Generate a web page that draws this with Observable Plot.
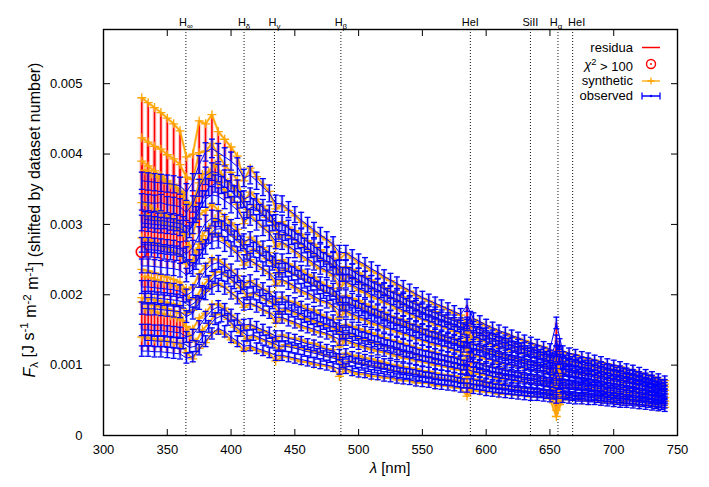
<!DOCTYPE html>
<html><head><meta charset="utf-8">
<script src="https://cdn.jsdelivr.net/npm/d3@7"></script>
<script src="https://cdn.jsdelivr.net/npm/@observablehq/plot@0.6"></script>
<style>
body{margin:0;background:#fff}
svg text{font-family:"Liberation Sans",Arial,Helvetica,sans-serif}
</style>
</head><body><div id="chart"></div>
<script>
// ---- data (flux in units of 1e-5 J s^-1 m^-2 m^-1) ----
const fluxUnit = 1e-5;
// wavelength grid A (datasets D1..D9)
const wavelengthsA = [330,335,340,345,350,355,360,365,370,375,380,385,390,395,400,405,410,415,420,425,430,435,440,445,450,455,460,465,470,475,480,485,490,495,500,505,510,515,520,525,530,535,540,545,550,555,560,565,570,575,580,585,590,595,600,605,610,615,620,625,630,635,640,645,650,655,660,665,670,675,680,685,690,695,700,705,710,715,720,725,730,735,740];
// wavelength grid B (datasets E1..E4)
const wavelengthsB = [332.5,337.5,342.5,347.5,352.5,357.5,362.5,367.5,372.5,377.5,382.5,387.5,392.5,397.5,402.5,407.5,412.5,417.5,422.5,427.5,432.5,437.5,442.5,447.5,452.5,457.5,462.5,467.5,472.5,477.5,482.5,487.5,492.5,497.5,502.5,507.5,512.5,517.5,522.5,527.5,532.5,537.5,542.5,547.5,552.5,557.5,562.5,567.5,572.5,577.5,582.5,587.5,592.5,597.5,602.5,607.5,612.5,617.5,622.5,627.5,632.5,637.5,642.5,647.5,652.5,657.5,662.5,667.5,672.5,677.5,682.5,687.5,692.5,697.5,702.5,707.5,712.5,717.5,722.5,727.5,732.5,737.5];

const observedD1 = [362,361,360,359,358,357,355,346,360,385,403,408,402,396,390,382,366,370,362,353,344,330,329,321,314,306,299,292,285,279,272,260,260,254,248,243,237,232,226,221,216,211,206,201,196,192,188,184,180,176,172,185,166,162,157,153,149,146,142,139,135,132,129,126,123,160,120,117,115,112,110,107,105,102,100,98,95,93,90,87,84,81,78];
const observedD2 = [332,331,330,331,328,327,325,317,329,352,369,375,373,365,359,351,336,340,332,324,316,303,302,295,289,283,275,269,262,257,250,239,239,234,228,224,218,214,208,204,200,195,190,186,181,177,174,170,166,163,159,157,154,150,145,142,138,135,132,129,125,123,120,117,114,112,112,109,107,104,103,100,98,95,93,92,89,87,84,82,79,76,73];
const observedD3 = [302,301,300,299,298,297,295,287,298,319,336,342,340,334,328,320,306,310,303,295,288,276,275,269,263,257,251,245,239,234,229,219,219,214,209,205,200,196,191,187,182,178,174,170,166,163,159,156,153,150,146,160,141,138,134,130,127,125,121,119,116,113,111,108,106,135,103,101,99,97,95,93,91,89,87,85,83,81,79,76,74,71,69];
const observedD4 = [271,271,270,269,268,267,265,258,267,286,302,309,308,303,296,289,276,279,273,266,259,249,248,243,238,232,227,222,216,212,207,198,198,193,189,185,181,177,173,169,165,162,158,155,151,148,145,142,139,136,133,132,129,126,122,119,116,114,111,109,106,104,102,99,97,95,95,93,91,89,88,86,84,82,80,79,77,75,73,71,68,66,64];
const observedD5 = [241,241,240,239,238,237,235,228,236,254,268,276,277,272,265,258,247,249,243,237,231,222,222,217,212,207,203,198,193,190,185,177,177,173,169,166,162,159,155,152,149,146,143,139,136,133,131,128,126,123,120,135,116,114,110,108,105,103,101,99,96,94,93,91,89,120,87,85,83,82,80,79,77,75,74,72,71,69,67,65,63,61,59];
const observedD6 = [211,211,210,209,208,207,205,199,205,220,235,243,246,241,234,227,217,219,213,208,203,195,195,190,187,182,178,175,170,167,163,156,157,153,149,147,143,141,137,135,132,129,127,123,121,119,116,114,112,110,107,106,104,101,98,96,94,92,90,89,86,85,83,81,80,78,78,77,75,74,73,71,70,68,67,66,64,63,61,60,58,56,54];
const observedD7 = [181,180,180,179,178,177,176,169,174,188,202,210,214,210,203,196,187,188,184,179,175,168,168,164,161,157,154,151,148,145,141,136,136,133,130,127,125,122,120,117,115,112,110,108,106,104,102,100,98,96,94,94,91,89,87,84,83,81,80,78,76,75,74,72,71,95,69,68,67,66,65,64,63,61,60,59,58,57,55,54,52,51,49];
const observedD8 = [150,150,149,149,148,147,146,140,143,155,168,178,183,179,171,165,157,158,154,150,146,141,141,138,136,133,130,128,125,122,120,115,116,112,110,108,106,104,102,100,98,96,95,93,91,90,87,86,85,83,81,92,79,77,75,73,72,71,69,68,67,66,65,64,63,61,61,60,59,59,58,57,56,55,54,53,52,51,50,49,47,46,45];
const observedD9 = [120,120,119,119,118,117,116,110,112,122,134,145,152,148,140,134,127,128,124,121,118,114,114,112,110,108,106,104,102,100,98,94,95,92,90,89,87,86,84,83,81,80,79,77,76,75,73,72,71,70,68,68,66,65,63,62,61,60,59,58,57,56,56,55,54,52,53,52,51,51,50,50,49,48,47,46,46,45,44,43,42,41,40];
const observedE1 = [307,306,305,305,303,302,300,292,314,336,353,358,356,350,343,335,321,325,317,309,302,290,288,282,276,270,263,257,250,245,239,229,229,224,218,214,209,205,200,195,191,186,182,178,173,170,166,163,159,156,152,168,147,144,139,136,132,130,126,124,120,118,115,112,110,130,107,105,103,100,99,96,94,92,90,88,86,84,81,79,76,73];
const observedE2 = [264,264,263,261,260,259,256,240,246,262,284,293,294,288,280,273,261,264,258,251,245,235,235,230,225,219,215,210,204,201,196,187,187,183,179,175,171,168,164,160,157,154,150,147,143,140,138,135,132,129,126,125,122,120,116,113,110,108,106,104,101,99,97,95,93,108,91,89,87,85,84,82,80,78,77,75,74,72,70,68,65,63];
const observedE3 = [196,196,195,194,193,192,190,184,190,204,218,226,230,225,218,211,202,203,198,193,189,181,181,177,174,169,166,163,159,156,152,146,146,143,139,137,134,131,128,126,123,120,118,115,113,111,109,107,105,103,100,112,97,95,92,90,88,86,85,83,81,80,78,76,75,74,73,72,71,70,69,67,66,64,63,62,61,60,58,57,55,53];
const observedE4 = [135,135,134,134,133,132,131,125,127,140,155,166,170,165,156,149,142,143,139,135,132,127,127,125,123,120,118,116,113,111,109,104,105,102,100,98,96,95,93,91,89,88,87,85,83,82,80,79,78,76,74,74,72,71,69,67,66,65,64,63,62,61,60,59,58,72,57,56,55,55,54,53,52,51,50,49,49,48,47,46,44,43];

// residua = synthetic - observed (same units)
const residuaD1 = [118,112,106,100,93,86,78,50,40,62,40,48,30,25,20,15,-4,10,6,4,3,-8,-2,-1,-2,-3,-2,-3,-2,-1,-2,-10,-1,-2,-3,-2,-3,-2,-2,-1,-2,-2,-1,-2,-1,-1,-2,-1,-1,-2,-1,-28,-1,-2,-1,-1,-2,-1,-1,-1,0,-1,-1,0,-2,-50,-1,-1,0,-1,-1,0,-1,0,-1,0,-1,0,-1,0,0,-1,0];
const residuaD2 = [91,86,81,76,71,66,60,50,35,50,35,40,25,20,15,12,-4,6,4,2,2,-6,2,1,2,3,2,3,2,1,2,-8,1,2,3,2,3,2,2,1,2,2,1,2,1,1,2,1,1,2,1,-10,1,2,1,1,2,1,1,1,0,1,1,0,-2,-25,-1,1,0,1,1,0,1,0,1,0,1,0,1,0,0,1,0];
const residuaD3 = [88,82,76,70,64,58,52,40,30,40,28,30,20,15,10,8,-5,4,2,1,1,-8,-2,-1,-2,-3,-2,-3,-2,-1,-2,-10,-1,-2,-3,-2,-3,-2,-2,-1,-2,-2,-1,-2,-1,-1,-2,-1,-1,-2,-1,-25,-1,-2,-1,-1,-2,-1,-1,-1,0,-1,-1,0,-2,-45,-1,-1,0,-1,-1,0,-1,0,-1,0,-1,0,-1,0,0,-1,0];
const residuaD4 = [60,56,52,48,44,40,36,28,20,28,18,20,12,8,6,4,-5,3,2,1,1,-6,2,1,2,3,2,3,2,1,2,-8,1,2,3,2,3,2,2,1,2,2,1,2,1,1,2,1,1,2,1,-10,1,2,1,1,2,1,1,1,0,1,1,0,-2,-25,-1,1,0,1,1,0,1,0,1,0,1,0,1,0,0,1,0];
const residuaD5 = [40,37,34,31,28,25,22,16,12,18,10,12,8,5,3,2,-5,1,0,-1,-1,-8,-2,-1,-2,-3,-2,-3,-2,-1,-2,-10,-1,-2,-3,-2,-3,-2,-2,-1,-2,-2,-1,-2,-1,-1,-2,-1,-1,-2,-1,-25,-1,-2,-1,-1,-2,-1,-1,-1,0,-1,-1,0,-2,-45,-1,-1,0,-1,-1,0,-1,0,-1,0,-1,0,-1,0,0,-1,0];
const residuaD6 = [25,23,21,19,17,15,13,8,6,10,6,8,4,2,1,0,-5,1,1,0,1,-6,2,1,2,3,2,3,2,1,2,-8,1,2,3,2,3,2,2,1,2,2,1,2,1,1,2,1,1,2,1,-10,1,2,1,1,2,1,1,1,0,1,1,0,-2,-25,-1,1,0,1,1,0,1,0,1,0,1,0,1,0,0,1,0];
const residuaD7 = [15,14,13,12,11,10,9,5,4,6,3,4,2,1,0,-1,-5,-1,0,-1,-1,-8,-2,-1,-2,-3,-2,-3,-2,-1,-2,-10,-1,-2,-3,-2,-3,-2,-2,-1,-2,-2,-1,-2,-1,-1,-2,-1,-1,-2,-1,-12,-1,-2,-1,-1,-2,-1,-1,-1,0,-1,-1,0,-2,-38,-1,-1,0,-1,-1,0,-1,0,-1,0,-1,0,-1,0,0,-1,0];
const residuaD8 = [40,38,36,34,32,30,28,15,8,12,6,8,4,2,0,-1,-5,-1,-2,-1,-2,-6,2,1,2,3,2,3,2,1,2,-8,1,2,3,2,3,2,2,1,2,2,1,2,1,1,2,1,1,2,1,-20,1,2,1,1,2,1,1,1,0,1,1,0,-2,-25,-1,1,0,1,1,0,1,0,1,0,1,0,1,0,0,1,0];
const residuaD9 = [20,19,18,17,16,15,14,8,-3,2,-2,0,-3,-4,-4,-3,-6,-3,-3,-2,-2,-8,-2,-1,-2,-3,-2,-3,-2,-1,-2,-10,-1,-2,-3,-2,-3,-2,-2,-1,-2,-2,-1,-2,-1,-1,-2,-1,-1,-2,-1,-12,-1,-2,-1,-1,-2,-1,-1,-1,0,-1,-1,0,-2,-25,-1,-1,0,-1,-1,0,-1,0,-1,0,-1,0,-1,0,0,-1,0];
const residuaE1 = [70,66,62,58,54,50,45,35,25,35,22,28,15,10,8,5,-4,3,2,1,1,-8,-2,-1,-2,-3,-2,-3,-2,-1,-2,-10,-1,-2,-3,-2,-3,-2,-2,-1,-2,-2,-1,-2,-1,-1,-2,-1,-1,-2,-1,-28,-1,-2,-1,-1,-2,-1,-1,-1,0,-1,-1,0,-2,-35,-1,-1,0,-1,-1,0,-1,0,-1,0,-1,0,-1,0,0,-1];
const residuaE2 = [50,47,44,41,38,35,32,30,15,22,12,15,8,5,3,2,-5,1,1,0,0,-6,2,1,2,3,2,3,2,1,2,-8,1,2,3,2,3,2,2,1,2,2,1,2,1,1,2,1,1,2,1,-10,1,2,1,1,2,1,1,1,0,1,1,0,-2,-30,-1,1,0,1,1,0,1,0,1,0,1,0,1,0,0,1];
const residuaE3 = [30,28,26,24,22,20,18,10,5,8,4,6,3,1,0,-1,-5,-1,0,-1,-1,-8,-2,-1,-2,-3,-2,-3,-2,-1,-2,-10,-1,-2,-3,-2,-3,-2,-2,-1,-2,-2,-1,-2,-1,-1,-2,-1,-1,-2,-1,-22,-1,-2,-1,-1,-2,-1,-1,-1,0,-1,-1,0,-2,-25,-1,-1,0,-1,-1,0,-1,0,-1,0,-1,0,-1,0,0,-1];
const residuaE4 = [45,43,41,39,37,35,32,18,6,10,4,6,2,0,-2,-3,-6,-2,-2,-1,-2,-6,2,1,2,3,2,3,2,1,2,-8,1,2,3,2,3,2,2,1,2,2,1,2,1,1,2,1,1,2,1,-10,1,2,1,1,2,1,1,1,0,1,1,0,-2,-28,-1,1,0,1,1,0,1,0,1,0,1,0,1,0,0,1];

// observational uncertainty: floor + fraction of flux
const sigmaFloor = 5;
const sigmaFraction = 0.02;

// points with chi^2 > 100
const chi2Lambda = [330];
const chi2Flux = [0.00261];

// spectral line markers
const lineLambda = [364.6, 410.2, 434.0, 486.1, 587.6, 634.7, 656.3, 667.8];
const lineBase = ["H", "H", "H", "H", "HeI", "SiII", "H", "HeI"];
const lineSub = ["\u221e", "\u03b4", "\u03b3", "\u03b2", "", "", "\u03b1", ""];

const xTicks = [300,350,400,450,500,550,600,650,700,750];
const yTicks = [0,0.001,0.002,0.003,0.004,0.005];

// ---- build table ----
const datasets = [
  [wavelengthsA, observedD1, residuaD1], [wavelengthsA, observedD2, residuaD2], [wavelengthsB, observedE1, residuaE1],
  [wavelengthsA, observedD3, residuaD3], [wavelengthsA, observedD4, residuaD4], [wavelengthsB, observedE2, residuaE2],
  [wavelengthsA, observedD5, residuaD5], [wavelengthsA, observedD6, residuaD6], [wavelengthsB, observedE3, residuaE3],
  [wavelengthsA, observedD7, residuaD7], [wavelengthsA, observedD8, residuaD8], [wavelengthsB, observedE4, residuaE4],
  [wavelengthsA, observedD9, residuaD9]
];
const rows = [];
datasets.forEach(([lams, obsArr, resArr], k) => {
  lams.forEach((lam, i) => {
    const o = obsArr[i], r = resArr[i];
    const s = sigmaFloor + sigmaFraction * o;
    rows.push({set: k + 1, lambda: lam, obs: o * fluxUnit, syn: (o + r) * fluxUnit, lo: (o - s) * fluxUnit, hi: (o + s) * fluxUnit});
  });
});
const chiRows = chi2Lambda.map((l, i) => ({lambda: l, flux: chi2Flux[i]}));
const lineRows = lineLambda.map((l, i) => ({lambda: l, base: lineBase[i], sub: lineSub[i]}));

const capSymbol = {draw(ctx, size) { const w = Math.sqrt(size / Math.PI); ctx.moveTo(-w, 0); ctx.lineTo(w, 0); }};
const BLUE = "#0000ff", ORANGE = "#ffa500", RED = "#ff0000";

const chart = Plot.plot({
  width: 709, height: 487,
  marginLeft: 103, marginRight: 32, marginTop: 29, marginBottom: 52,
  style: {fontFamily: "Liberation Sans, Arial, sans-serif", fontSize: "13px", background: "white", color: "black", overflow: "visible"},
  x: {domain: [300, 750]},
  y: {domain: [0, 0.00577]},
  marks: [
    Plot.ruleX(lineRows, {x: "lambda", stroke: "#111", strokeWidth: 1, strokeDasharray: "1,2"}),
    Plot.text(lineRows, {x: "lambda", text: "base", frameAnchor: "top", dy: -11, fontSize: 11}),
    // residua
    Plot.ruleX(rows, {x: "lambda", y1: "obs", y2: "syn", stroke: RED, strokeWidth: 4, strokeOpacity: 0.18}),
    Plot.ruleX(rows, {x: "lambda", y1: "obs", y2: "syn", stroke: RED, strokeWidth: 1.6}),
    // chi2 > 100
    Plot.dot(chiRows, {x: "lambda", y: "flux", r: 5.5, stroke: RED, strokeWidth: 1.6, fill: "none"}),
    // synthetic
    Plot.line(rows, {x: "lambda", y: "syn", z: "set", stroke: ORANGE, strokeWidth: 2.5, strokeOpacity: 0.5}),
    Plot.line(rows, {x: "lambda", y: "syn", z: "set", stroke: ORANGE, strokeWidth: 1.3}),
    Plot.dot(rows, {x: "lambda", y: "syn", symbol: "plus", r: 3, stroke: ORANGE, strokeWidth: 1.3}),
    // observed
    Plot.ruleX(rows, {x: "lambda", y1: "lo", y2: "hi", stroke: BLUE, strokeWidth: 3.5, strokeOpacity: 0.18}),
    Plot.line(rows, {x: "lambda", y: "obs", z: "set", stroke: BLUE, strokeWidth: 1}),
    Plot.ruleX(rows, {x: "lambda", y1: "lo", y2: "hi", stroke: BLUE, strokeWidth: 1.3}),
    Plot.dot(rows, {x: "lambda", y: "lo", symbol: capSymbol, r: 3, fill: "none", stroke: BLUE, strokeWidth: 1.3}),
    Plot.dot(rows, {x: "lambda", y: "hi", symbol: capSymbol, r: 3, fill: "none", stroke: BLUE, strokeWidth: 1.3}),
    // frame and axes
    Plot.frame({stroke: "black", strokeWidth: 1.4}),
    Plot.axisX({anchor: "bottom", ticks: xTicks, tickSize: 0, tickPadding: 9, label: null}),
    Plot.axisX({anchor: "bottom", ticks: xTicks, tickSize: -6, text: null, label: null}),
    Plot.axisX({anchor: "top", ticks: xTicks, tickSize: -6, text: null, label: null}),
    Plot.axisY({anchor: "left", ticks: yTicks, tickSize: 0, tickPadding: 21, tickFormat: d => d === 0 ? "0" : d3.format(".3f")(d), label: null}),
    Plot.axisY({anchor: "left", ticks: yTicks, tickSize: -7, text: null, label: null}),
    Plot.axisY({anchor: "right", ticks: yTicks, tickSize: -7, text: null, label: null})
  ]
});
document.getElementById("chart").appendChild(chart);

// ---- rich text helpers ----
const svg = d3.select(chart);
function rich(sel, parts) {
  let shift = 0;
  parts.forEach(p => {
    const t = sel.append("tspan").text(p.t);
    let target = 0;
    if (p.s === "sub") { target = 0.3; t.attr("font-size", "72%"); }
    if (p.s === "sup") { target = -0.45; t.attr("font-size", "72%"); }
    if (p.i) t.attr("font-style", "italic");
    const d = target - shift;
    if (d !== 0) t.attr("dy", d + "em");
    shift = target;
  });
}

// line labels with subscripts (the last HeI label is nudged right so it clears H-alpha)
svg.selectAll('g[aria-label="text"] text').each(function(d, i) {
  const el = d3.select(this);
  el.text(null);
  if (i === lineBase.length - 1) el.attr("dx", 4);
  if (i === 6) el.attr("dx", -2);
  rich(el, [{t: lineBase[i]}].concat(lineSub[i] ? [{t: lineSub[i], s: "sub"}] : []));
});

// axis titles
const yl = svg.append("text").attr("transform", "translate(35,220) rotate(-90)").attr("text-anchor", "middle").attr("font-size", 16);
rich(yl, [{t: "F", i: true}, {t: "\u03bb", s: "sub"}, {t: " [J s"}, {t: "-1", s: "sup"}, {t: " m"}, {t: "-2", s: "sup"}, {t: " m"}, {t: "-1", s: "sup"}, {t: "] (shifted by dataset number)"}]);
const xl = svg.append("text").attr("x", 390).attr("y", 473).attr("text-anchor", "middle").attr("font-size", 15);
rich(xl, [{t: "\u03bb", i: true}, {t: " [nm]"}]);

// legend
const lg = svg.append("g").attr("font-size", 13);
const lx = 633, sx1 = 642, sx2 = 660, sxm = 651;
const ys = [47.5, 64, 81, 96];
lg.append("text").attr("x", lx).attr("y", ys[0] + 4.5).attr("text-anchor", "end").text("residua");
lg.append("line").attr("x1", sx1).attr("x2", sx2).attr("y1", ys[0]).attr("y2", ys[0]).attr("stroke", RED).attr("stroke-width", 1.5);
const chiT = lg.append("text").attr("x", lx).attr("y", ys[1] + 5).attr("text-anchor", "end");
rich(chiT, [{t: "\u03c7", i: true}, {t: "2", s: "sup"}, {t: " > 100"}]);
lg.append("circle").attr("cx", sxm).attr("cy", ys[1]).attr("r", 4.5).attr("fill", "none").attr("stroke", RED).attr("stroke-width", 1.4);
lg.append("circle").attr("cx", sxm).attr("cy", ys[1]).attr("r", 0.9).attr("fill", RED);
lg.append("text").attr("x", lx).attr("y", ys[2] + 4).attr("text-anchor", "end").text("synthetic");
lg.append("line").attr("x1", sx1).attr("x2", sx2).attr("y1", ys[2]).attr("y2", ys[2]).attr("stroke", ORANGE).attr("stroke-width", 1.3);
lg.append("path").attr("d", `M${sxm - 3.5},${ys[2]}h7M${sxm},${ys[2] - 3.5}v7`).attr("stroke", ORANGE).attr("stroke-width", 1.3);
lg.append("text").attr("x", lx).attr("y", ys[3] + 4).attr("text-anchor", "end").text("observed");
lg.append("path").attr("d", `M${sx1},${ys[3]}H${sx2}M${sx1},${ys[3] - 3.5}v7M${sx2},${ys[3] - 3.5}v7`).attr("stroke", BLUE).attr("stroke-width", 1.3).attr("fill", "none");
lg.append("circle").attr("cx", sxm).attr("cy", ys[3]).attr("r", 1.2).attr("fill", BLUE);
</script>
</body></html>
